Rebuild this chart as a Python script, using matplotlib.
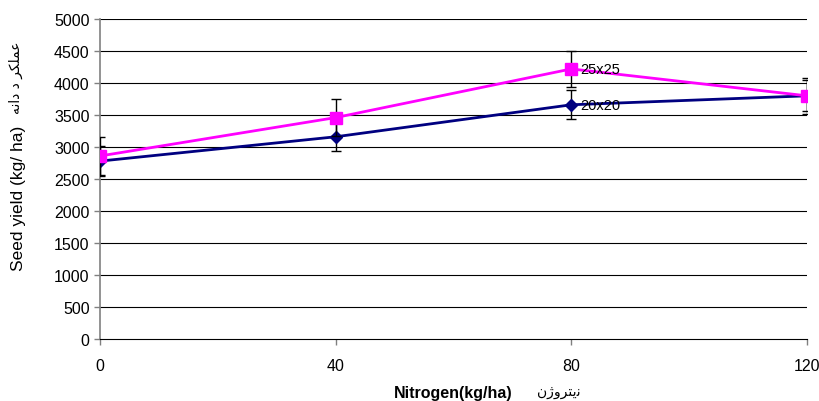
import matplotlib
matplotlib.use("Agg")
import matplotlib.pyplot as plt

# nitrogen levels (kg/ha) and seed yield (kg/ha) for the two spacings
nitrogen = [0, 40, 80, 120]
yield_20x20 = [2780, 3160, 3660, 3800]
err_20x20 = [230, 230, 230, 240]
yield_25x25 = [2860, 3460, 4220, 3800]
err_25x25 = [290, 290, 280, 280]
series_labels = ["20x20", "25x25"]
y_ticks = list(range(0, 5001, 500))

# Persian labels, shaped with presentation forms and put in visual order
fa_ylabel = "\uFECB\uFEE4\uFEE0\uFB91\uFEAE \uFEA9 \uFEA9\uFE8D\uFEE7\uFEEA"[::-1]
fa_xlabel = "\uFEE7\uFBFE\uFE98\uFEAE\uFEED\uFB8A\uFEE5"[::-1]

plt.rcParams["font.family"] = ["Liberation Sans", "DejaVu Sans"]

fig = plt.figure(figsize=(8.19, 4.02), dpi=100)
ax = fig.add_axes([0.1221, 0.1542, 0.8632, 0.7960])

for y in y_ticks[1:]:
    ax.axhline(y, color="black", lw=0.8, zorder=1)

ax.errorbar(nitrogen, yield_20x20, yerr=err_20x20, color="#000080", lw=2,
            marker="D", ms=6.5, ecolor="black", elinewidth=1, capsize=3.5,
            capthick=1, zorder=3)
ax.errorbar(nitrogen, yield_25x25, yerr=err_25x25, color="#FF00FF", lw=2,
            marker="s", ms=8.5, ecolor="black", elinewidth=1, capsize=3.5,
            capthick=1, zorder=4)

ax.text(nitrogen[2] + 1.5, yield_25x25[2], series_labels[1], fontsize=10.5,
        va="center", ha="left", zorder=5)
ax.text(nitrogen[2] + 1.5, yield_20x20[2], series_labels[0], fontsize=10.5,
        va="center", ha="left", zorder=5)

ax.set_xlim(0, 120)
ax.set_ylim(0, 5000)
ax.set_xticks(nitrogen)
ax.set_yticks(y_ticks)
ax.tick_params(axis="both", labelsize=11.5, length=4, width=1, color="#808080")
ax.tick_params(axis="x", pad=10)

ax.spines["top"].set_visible(False)
ax.spines["right"].set_visible(False)
ax.spines["left"].set_color("#808080")
ax.spines["left"].set_linewidth(1.2)
ax.spines["bottom"].set_color("black")

fig.text(0.022, 0.507, "Seed yield (kg/ ha)", fontsize=12.5, rotation=90,
         ha="center", va="center")
fig.text(0.553, 0.022, "Nitrogen(kg/ha)", fontsize=11.5, fontweight="bold",
         ha="center", va="center")
fig.text(0.682, 0.024, fa_xlabel, fontsize=10, ha="center", va="center",
         family=["DejaVu Sans"])
fig.text(0.019, 0.806, fa_ylabel, fontsize=10, ha="center", va="center",
         rotation=90, family=["DejaVu Sans"])

plt.savefig("out.png", dpi=100)
